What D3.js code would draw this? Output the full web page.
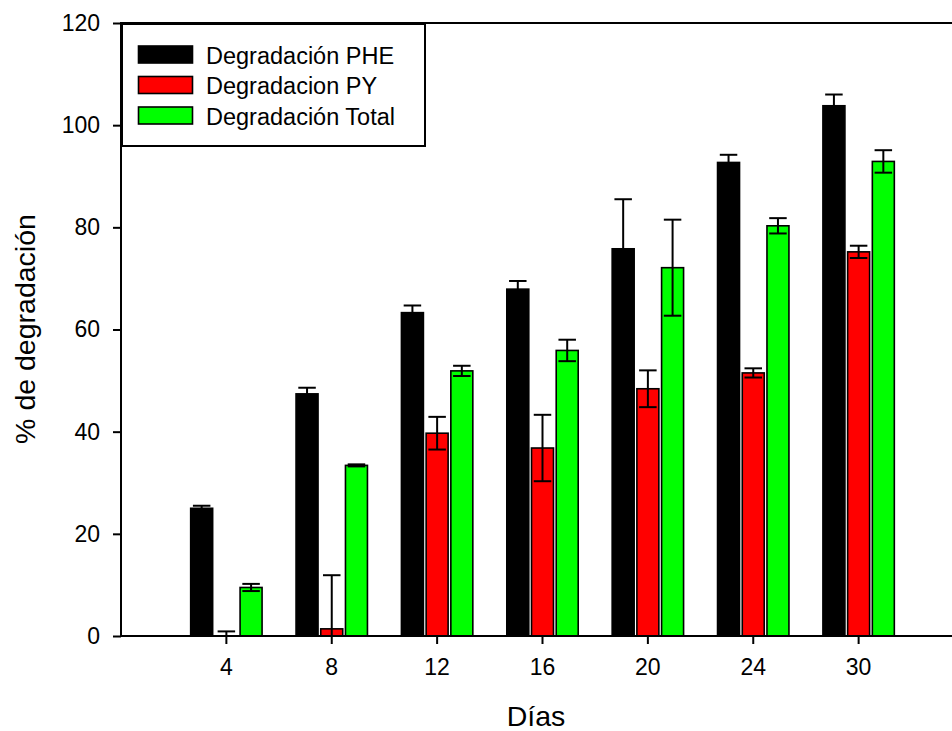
<!DOCTYPE html>
<html>
<head>
<meta charset="utf-8">
<script src="https://cdn.jsdelivr.net/npm/d3@7"></script>
<style>
  html, body { margin: 0; padding: 0; background: #fff; }
  svg { display: block; font-family: "Liberation Sans", Arial, sans-serif; }
</style>
</head>
<body>
<svg id="chart" width="952" height="731"></svg>
<script>
// Días de muestreo
const days = ["4", "8", "12", "16", "20", "24", "30"];

// % de degradación por serie (media y error)
const phe      = [25.0, 47.4, 63.3, 67.9, 75.8, 92.7, 103.8];
const pheErr   = [0.5, 1.2, 1.4, 1.6, 9.7, 1.5, 2.2];
const py       = [0.0, 1.4, 39.7, 36.8, 48.4, 51.5, 75.2];
const pyErr    = [0.9, 10.5, 3.2, 6.5, 3.6, 0.9, 1.2];
const total    = [9.5, 33.4, 51.9, 55.9, 72.1, 80.3, 92.9];
const totalErr = [0.7, 0.2, 1.0, 2.1, 9.4, 1.5, 2.2];

const seriesNames = ["Degradación PHE", "Degradacion PY", "Degradación Total"];
const seriesColors = ["#000000", "#ff0000", "#00ff00"];
const yTicks = [0, 20, 40, 60, 80, 100, 120];

const series = [
  { name: seriesNames[0], color: seriesColors[0], values: phe, errs: pheErr },
  { name: seriesNames[1], color: seriesColors[1], values: py, errs: pyErr },
  { name: seriesNames[2], color: seriesColors[2], values: total, errs: totalErr }
];

const svg = d3.select("#chart");
const plotLeft = 121, plotRight = 964, plotTop = 23, plotBottom = 636;

const x0 = d3.scaleBand().domain(days).range([plotLeft, plotRight]).paddingInner(0).paddingOuter(0.5);
const groupSpan = 71.4;
const x1 = d3.scaleBand().domain(seriesNames)
  .range([(x0.bandwidth() - groupSpan) / 2, (x0.bandwidth() + groupSpan) / 2])
  .paddingInner(0.11).paddingOuter(0);
const y = d3.scaleLinear().domain([0, 120]).range([plotBottom, plotTop]);

svg.append("defs").append("clipPath").attr("id", "plotClip")
  .append("rect").attr("x", plotLeft).attr("y", plotTop - 5)
  .attr("width", plotRight - plotLeft).attr("height", plotBottom - plotTop + 5);

const plot = svg.append("g").attr("clip-path", "url(#plotClip)");

// Barras
series.forEach(s => {
  const g = plot.append("g");
  g.selectAll("rect").data(days).join("rect")
    .attr("x", (d) => x0(d) + x1(s.name))
    .attr("y", (d, i) => y(s.values[i]))
    .attr("width", x1.bandwidth())
    .attr("height", (d, i) => y(0) - y(s.values[i]))
    .attr("fill", s.color)
    .attr("stroke", "#000")
    .attr("stroke-width", 1.6);
});

// Barras de error
const capW = 17.5;
series.forEach(s => {
  const g = plot.append("g").attr("stroke", "#000").attr("stroke-width", 2).attr("fill", "none");
  days.forEach((d, i) => {
    const cx = x0(d) + x1(s.name) + x1.bandwidth() / 2;
    const hi = y(s.values[i] + s.errs[i]);
    const lo = y(s.values[i] - s.errs[i]);
    g.append("line").attr("x1", cx).attr("x2", cx).attr("y1", hi).attr("y2", lo);
    g.append("line").attr("x1", cx - capW / 2).attr("x2", cx + capW / 2).attr("y1", hi).attr("y2", hi);
    g.append("line").attr("x1", cx - capW / 2).attr("x2", cx + capW / 2).attr("y1", lo).attr("y2", lo);
  });
});

// Marco del gráfico
svg.append("rect")
  .attr("x", plotLeft).attr("y", plotTop)
  .attr("width", plotRight - plotLeft).attr("height", plotBottom - plotTop)
  .attr("fill", "none").attr("stroke", "#000").attr("stroke-width", 2);

// Eje Y
const yAxis = svg.append("g")
  .attr("transform", `translate(${plotLeft},0)`)
  .call(d3.axisLeft(y).tickValues(yTicks).tickSize(8).tickPadding(13).tickFormat(d3.format("d")));
yAxis.select(".domain").remove();
yAxis.selectAll(".tick line").attr("stroke", "#000").attr("stroke-width", 2);
yAxis.selectAll(".tick text").attr("font-size", 23).attr("fill", "#000")
  .attr("font-family", "'Liberation Sans', Arial, sans-serif");

// Eje X
const xAxis = svg.append("g")
  .attr("transform", `translate(0,${plotBottom})`)
  .call(d3.axisBottom(x0).tickSize(8).tickPadding(15));
xAxis.select(".domain").remove();
xAxis.selectAll(".tick line").attr("stroke", "#000").attr("stroke-width", 2);
xAxis.selectAll(".tick text").attr("font-size", 23).attr("fill", "#000")
  .attr("font-family", "'Liberation Sans', Arial, sans-serif");

// Títulos de los ejes
svg.append("text")
  .attr("x", 536).attr("y", 726)
  .attr("text-anchor", "middle")
  .attr("font-size", 28.5)
  .text("Días");

svg.append("text")
  .attr("transform", `translate(35,329) rotate(-90)`)
  .attr("text-anchor", "middle")
  .attr("font-size", 28.5)
  .text("% de degradación");

// Leyenda
const legend = svg.append("g");
legend.append("rect")
  .attr("x", 122).attr("y", 24).attr("width", 303).attr("height", 122)
  .attr("fill", "#fff").attr("stroke", "#000").attr("stroke-width", 2);
series.forEach((s, i) => {
  const ly = 46 + i * 30.5;
  legend.append("rect")
    .attr("x", 138.5).attr("y", ly).attr("width", 54).attr("height", 17)
    .attr("fill", s.color).attr("stroke", "#000").attr("stroke-width", 1.6);
  legend.append("text")
    .attr("x", 206).attr("y", ly + 17.5)
    .attr("font-size", 23.5)
    .text(s.name);
});
</script>
</body>
</html>
